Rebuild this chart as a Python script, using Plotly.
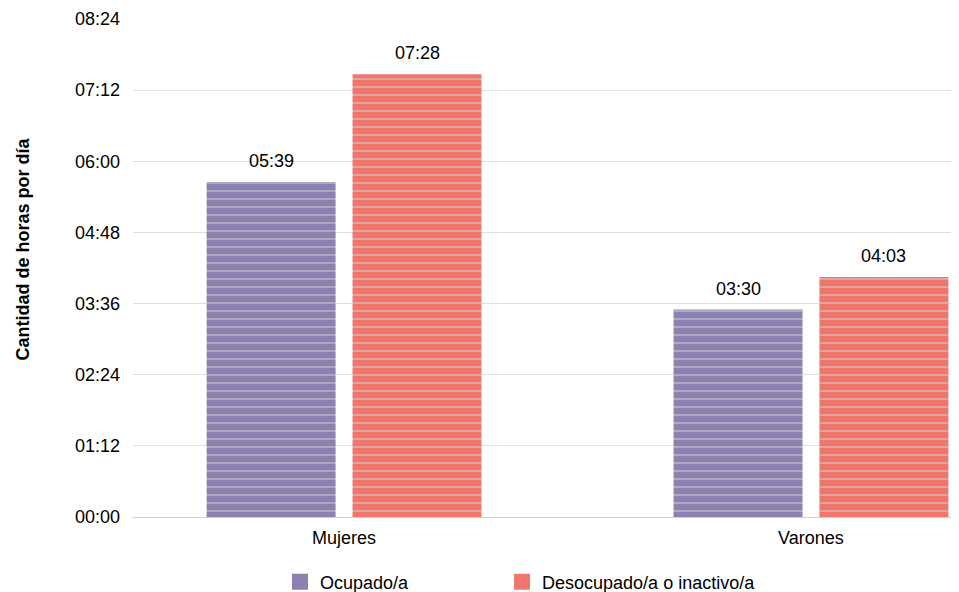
import plotly.graph_objects as go

categories = ["Mujeres", "Varones"]
ocupado = [339, 210]          # minutes: 05:39, 03:30
desocupado = [448, 243]       # minutes: 07:28, 04:03
series_names = ["Ocupado/a", "Desocupado/a o inactivo/a"]
series_colors = ["#8d80b3", "#f0766c"]
tick_vals = [0, 72, 144, 216, 288, 360, 432, 504]
tick_text = ["00:00", "01:12", "02:24", "03:36", "04:48", "06:00", "07:12", "08:24"]

def fmt(m):
    return f"{m // 60:02d}:{m % 60:02d}"

font = "Arial, Liberation Sans, sans-serif"
BARGAP = 0.375
half_slot = (1 - BARGAP) / 4
legend_ids = ["legend", "legend2"]
legend_x = [0.286, 0.5195]

fig = go.Figure()
annotations = []
for k, (name, vals, col) in enumerate(zip(series_names, [ocupado, desocupado], series_colors)):
    fig.add_trace(go.Bar(
        x=categories, y=vals, name=name, showlegend=False,
        marker=dict(color=col, line=dict(width=0),
                    pattern=dict(shape="-", fgcolor="#cfcfcf", size=8, solidity=0.25)),
        hoverinfo="skip",
    ))
    # legend proxy
    fig.add_trace(go.Scatter(
        x=[None], y=[None], mode="markers", name=name, legend=legend_ids[k],
        marker=dict(symbol="square", size=20, color=col),
    ))
    sign = -1 if k == 0 else 1
    for i, v in enumerate(vals):
        annotations.append(dict(
            x=i + sign * half_slot, y=v, xref="x", yref="y",
            text=fmt(v), showarrow=False, yanchor="bottom", yshift=9,
            font=dict(size=18, color="#000000", family=font),
        ))

annotations.append(dict(
    x=-0.1326, y=0.538, xref="paper", yref="paper", textangle=-90,
    text="<b>Cantidad de horas por día</b>", showarrow=False,
    xanchor="center", yanchor="middle",
    font=dict(size=18, color="#000000", family=font),
))

legend_common = dict(orientation="h", xref="container", yref="container",
                     xanchor="left", y=0.0171, yanchor="middle",
                     font=dict(size=18, color="#000000", family=font),
                     bgcolor="rgba(0,0,0,0)")

fig.update_layout(
    width=951, height=584,
    margin=dict(l=125, r=0, t=11, b=75),
    paper_bgcolor="white", plot_bgcolor="white",
    barmode="group", bargap=BARGAP, bargroupgap=0.116,
    font=dict(family=font, size=18, color="#000000"),
    showlegend=True,
    legend=dict(x=legend_x[0], **legend_common),
    legend2=dict(x=legend_x[1], **legend_common),
    annotations=annotations,
    xaxis=dict(range=[-0.452, 1.317], showgrid=False, showline=False, ticks="",
               automargin=False, ticklabelstandoff=8,
               tickfont=dict(size=18, color="#000000")),
    yaxis=dict(range=[0, 504], tickvals=tick_vals, ticktext=tick_text,
               showgrid=True, gridcolor="#e0e0e0", gridwidth=1, zeroline=True,
               zerolinecolor="#d0d0d0", zerolinewidth=1, automargin=False,
               tickfont=dict(size=18, color="#000000"), ticklabelstandoff=12),
)

fig.write_html("out.html")
